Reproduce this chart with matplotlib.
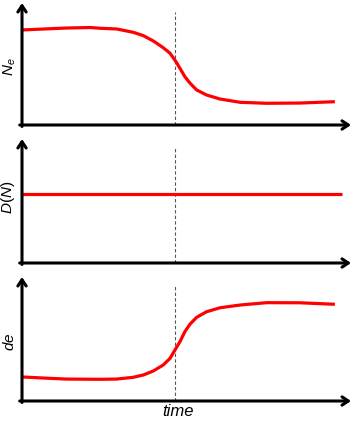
import matplotlib
matplotlib.use("Agg")
import matplotlib.pyplot as plt

plt.rcParams['font.family'] = ['Liberation Sans', 'DejaVu Sans']
plt.rcParams['mathtext.fontset'] = 'custom'
plt.rcParams['mathtext.it'] = 'Liberation Sans:italic'
plt.rcParams['mathtext.rm'] = 'Liberation Sans'

# values (time 0..100, each y axis 0..100)
t_ne = [0, 6.7, 13.6, 20.7, 23.7, 28.8, 33.8, 36.9, 39.9, 42.9, 45.0, 46.8, 48.0, 49.5,
        51.1, 53.1, 56.1, 60.2, 66.3, 74.4, 84.5, 95.1]
ne = [77.9, 78.7, 79.5, 79.9, 79.3, 78.7, 76.0, 73.2, 68.9, 63.4, 58.8, 51.9, 46.5, 39.6,
      34.2, 28.7, 24.6, 21.3, 18.6, 17.8, 18.0, 19.1]

t_dn = [0, 97.3]
dn = [55.6, 55.6]

t_de = [0, 6.7, 13.4, 23.7, 28.8, 33.8, 36.9, 39.9, 42.9, 45.0, 46.8, 48.0, 49.5,
        51.1, 53.1, 56.1, 60.2, 66.3, 74.4, 84.5, 95.1]
de = [19.4, 18.5, 17.7, 17.5, 17.7, 19.1, 21.0, 24.2, 29.0, 34.4, 42.5, 47.8, 55.9,
      62.1, 67.5, 72.0, 75.2, 77.4, 79.3, 79.2, 78.0]

t_switch = 46.5
ylabels = ['$N_e$', '$D(N)$', '$de$']

W, H = 353, 421
fig = plt.figure(figsize=(W / 100, H / 100), dpi=100)

# panel boxes in pixels: (top, bottom)
boxes = [(3, 125), (139, 263), (277, 401)]
x0, x1 = 22, 351
label_pos = [(10, 67), (8, 197), (10, 342)]

series = [(t_ne, ne), (t_dn, dn), (t_de, de)]
for i, (top, bot) in enumerate(boxes):
    ax = fig.add_axes([x0 / W, 1 - bot / H, (x1 - x0) / W, (bot - top) / H])
    ax.set_xlim(0, 100)
    ax.set_ylim(0, 100)
    ax.axis('off')
    ax.axvline(t_switch, ymin=0, ymax=0.93, color='#555555', lw=0.8, ls=(0, (3, 2)))
    tx, ty = series[i]
    ax.plot(tx, ty, color='#ff0000', lw=2.3, solid_capstyle='butt', solid_joinstyle='round')
    arr = dict(arrowstyle='->,head_length=0.45,head_width=0.3', lw=2.2, color='black',
               shrinkA=0, shrinkB=0)
    ax.annotate('', xy=(0, 100), xytext=(0, -1.2), arrowprops=arr, annotation_clip=False)
    ax.annotate('', xy=(100, 0), xytext=(-0.7, 0), arrowprops=arr, annotation_clip=False)
    lx, ly = label_pos[i]
    fig.text(lx / W, 1 - ly / H, ylabels[i], rotation=90,
             ha='center', va='center', fontsize=11)

fig.text(178 / W, 1 - 411 / H, 'time', style='italic', ha='center', va='center', fontsize=12)

fig.savefig('out.png', dpi=100)
